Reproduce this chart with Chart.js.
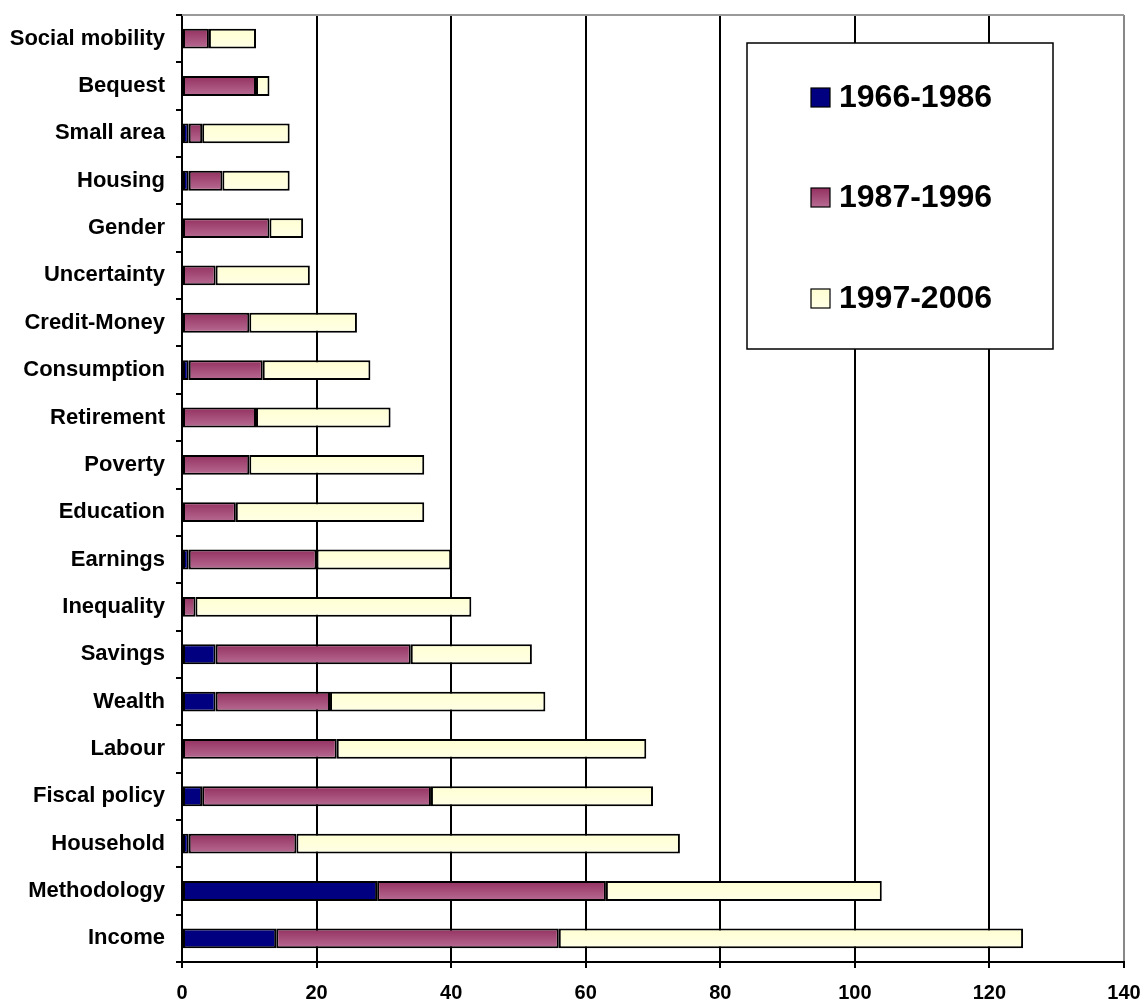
<!DOCTYPE html>
<html>
<head>
<meta charset="utf-8">
<script src="https://cdn.jsdelivr.net/npm/chart.js@4/dist/chart.umd.min.js"></script>
<style>
  html, body { margin: 0; padding: 0; background: #fff; }
  #wrap { width: 1144px; height: 1000px; position: relative; }
</style>
</head>
<body>
<div id="wrap"><canvas id="chart" width="1144" height="1000"></canvas></div>
<script>
var categories = [
  "Social mobility", "Bequest", "Small area", "Housing", "Gender",
  "Uncertainty", "Credit-Money", "Consumption", "Retirement", "Poverty",
  "Education", "Earnings", "Inequality", "Savings", "Wealth",
  "Labour", "Fiscal policy", "Household", "Methodology", "Income"
];
var seriesNames = ["1966-1986", "1987-1996", "1997-2006"];
var values1966 = [0, 0, 1, 1, 0, 0, 0, 1, 0, 0, 0, 1, 0, 5, 5, 0, 3, 1, 29, 14];
var values1987 = [4, 11, 2, 5, 13, 5, 10, 11, 11, 10, 8, 19, 2, 29, 17, 23, 34, 16, 34, 42];
var values1997 = [7, 2, 13, 10, 5, 14, 16, 16, 20, 26, 28, 20, 41, 18, 32, 46, 33, 57, 41, 69];
var xMin = 0;
var xMax = 140;
var xStep = 20;

var FONT = "'Liberation Sans', Arial, Helvetica, sans-serif";

function purpleGradient(c, top, bottom) {
  var g = c.createLinearGradient(0, top, 0, bottom);
  g.addColorStop(0, "#933060");
  g.addColorStop(1, "#b86c93");
  return g;
}

function yellowGradient(c, top, bottom) {
  var g = c.createLinearGradient(0, top, 0, bottom);
  g.addColorStop(0, "#ffffd2");
  g.addColorStop(1, "#ffffe6");
  return g;
}

function barFill(maker, flat) {
  return function (ctx) {
    var chart = ctx.chart;
    var y = chart.scales && chart.scales.y;
    if (!y || ctx.type !== "data") return flat;
    var c = y.getPixelForValue(ctx.dataIndex);
    if (!isFinite(c)) return flat;
    return maker(chart.ctx, c - 10, c + 10);
  };
}

// empty segments get no outline
function barBorder(ctx) {
  if (ctx.type === "data" && !ctx.raw) return 0;
  return 2;
}

var frame = {
  id: "frame",
  afterDraw: function (chart) {
    var c = chart.ctx;
    var a = chart.chartArea;
    c.save();
    // top border of plot area
    c.strokeStyle = "#999999";
    c.lineWidth = 2;
    c.beginPath();
    c.moveTo(a.left, a.top);
    c.lineTo(a.right, a.top);
    c.stroke();

    // legend box
    var bx = 747, by = 43, bw = 306, bh = 306;
    c.fillStyle = "#ffffff";
    c.fillRect(bx, by, bw, bh);
    c.strokeStyle = "#000000";
    c.lineWidth = 1.5;
    c.strokeRect(bx, by, bw, bh);

    var rows = [97, 197, 298];
    var ds = chart.data.datasets;
    c.font = "bold 32px " + FONT;
    c.textBaseline = "middle";
    c.textAlign = "left";
    for (var i = 0; i < ds.length; i++) {
      var cy = rows[i];
      var sx = 811, sy = cy - 9, ss = 19;
      if (i === 0) c.fillStyle = "#000080";
      else if (i === 1) c.fillStyle = purpleGradient(c, sy, sy + ss);
      else c.fillStyle = yellowGradient(c, sy, sy + ss);
      c.fillRect(sx, sy, ss, ss);
      c.lineWidth = 1.2;
      c.strokeStyle = "#000000";
      c.strokeRect(sx, sy, ss, ss);
      c.fillStyle = "#000000";
      c.fillText(ds[i].label, 839, cy + 1);
    }
    c.restore();
  }
};

var ctx = document.getElementById("chart").getContext("2d");
var chart = new Chart(ctx, {
  type: "bar",
  data: {
    labels: categories,
    datasets: [
      {
        label: seriesNames[0],
        data: values1966,
        backgroundColor: "#000080"
      },
      {
        label: seriesNames[1],
        data: values1987,
        backgroundColor: barFill(purpleGradient, "#a4456f")
      },
      {
        label: seriesNames[2],
        data: values1997,
        backgroundColor: barFill(yellowGradient, "#ffffd8")
      }
    ]
  },
  options: {
    indexAxis: "y",
    responsive: false,
    animation: false,
    layout: { padding: { top: 15, right: 20, left: 0, bottom: 0 } },
    datasets: {
      bar: {
        borderColor: "#000000",
        borderWidth: barBorder,
        borderSkipped: false,
        categoryPercentage: 1,
        barPercentage: 0.42
      }
    },
    plugins: {
      legend: { display: false },
      tooltip: { enabled: false }
    },
    scales: {
      x: {
        stacked: true,
        min: xMin,
        max: xMax,
        ticks: {
          stepSize: xStep,
          color: "#000000",
          font: { family: FONT, size: 20, weight: "bold" },
          padding: 13
        },
        grid: {
          color: function (c) {
            return c.tick && c.tick.value === xMax ? "#888888" : "#000000";
          },
          lineWidth: 2,
          tickLength: 6,
          tickColor: "#000000"
        },
        border: { color: "#000000", width: 2 },
        afterFit: function (scale) {
          scale.height = 38;
          scale.paddingLeft = 0;
          scale.paddingRight = 0;
        }
      },
      y: {
        stacked: true,
        ticks: {
          color: "#000000",
          font: { family: FONT, size: 22, weight: "bold" },
          padding: 11
        },
        grid: {
          offset: true,
          drawOnChartArea: false,
          tickLength: 6,
          tickColor: "#000000",
          lineWidth: 2
        },
        border: { color: "#000000", width: 2 },
        afterFit: function (scale) {
          scale.width = 182;
          scale.paddingTop = 0;
          scale.paddingBottom = 0;
        }
      }
    }
  },
  plugins: [frame]
});
</script>
</body>
</html>
